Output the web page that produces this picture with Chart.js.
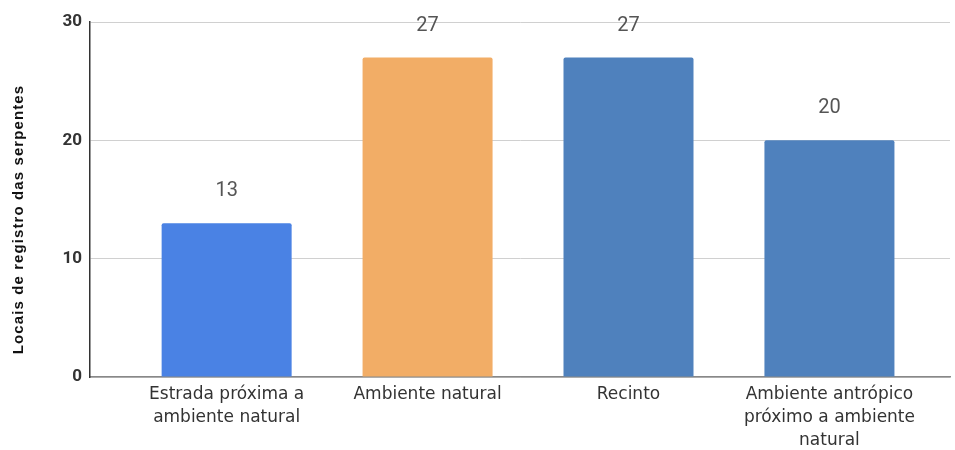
<!DOCTYPE html>
<html>
<head>
<meta charset="utf-8">
<script src="https://cdn.jsdelivr.net/npm/chart.js@4"></script>
<style>
  html, body { margin: 0; padding: 0; background: #fff; }
  #wrap { width: 955px; height: 450px; }
</style>
</head>
<body>
<div id="wrap"><canvas id="chartLocais"></canvas></div>
<script>
(() => {
    // categorias e valores
    const categorias = [
        ["Estrada próxima a", "ambiente natural"],
        ["Ambiente natural"],
        ["Recinto"],
        ["Ambiente antrópico", "próximo a ambiente", "natural"]
    ];
    const valores = [13, 27, 27, 20];
    const cores = ["#4a82e4", "#f2ad66", "#4f81bd", "#4f81bd"];
    const yTicks = [0, 10, 20, 30];
    const tituloY = "Locais de registro das serpentes";

    // rótulos de valor acima das barras
    const valorLabels = {
        id: "valorLabels",
        afterDatasetsDraw(chart) {
            const ctx = chart.ctx;
            const meta = chart.getDatasetMeta(0);
            ctx.save();
            ctx.font = "20px Roboto";
            ctx.fillStyle = "#555";
            ctx.textAlign = "center";
            ctx.textBaseline = "middle";
            meta.data.forEach((bar, i) => {
                ctx.fillText(String(valores[i]), bar.x, bar.y - 32);
            });
            ctx.restore();
        }
    };

    // título do eixo y (um pouco abaixo do centro, como no original)
    const tituloEixoY = {
        id: "tituloEixoY",
        afterDraw(chart) {
            const ctx = chart.ctx;
            const area = chart.chartArea;
            ctx.save();
            ctx.translate(19, (area.top + area.bottom) / 2 + 20);
            ctx.rotate(-Math.PI / 2);
            ctx.font = "bold 15px 'Liberation Sans'";
            ctx.letterSpacing = "1.1px";
            ctx.fillStyle = "#111";
            ctx.textAlign = "center";
            ctx.textBaseline = "middle";
            ctx.fillText(tituloY, 0, 0);
            ctx.restore();
        }
    };

    const el = document.getElementById("chartLocais");
    new Chart(el, {
        type: "bar",
        data: {
            datasets: [{
                data: valores.map((v, i) => ({ x: i, y: v })),
                backgroundColor: cores,
                borderRadius: 2,
                borderSkipped: "bottom",
                categoryPercentage: 1,
                barPercentage: 0.647
            }]
        },
        options: {
            responsive: true,
            maintainAspectRatio: false,
            animation: false,
            layout: { padding: { top: 22, right: 5, left: 0, bottom: 0 } },
            plugins: {
                legend: { display: false },
                tooltip: { enabled: false }
            },
            scales: {
                x: {
                    type: "linear",
                    offset: false,
                    min: -0.68,
                    max: 3.6,
                    afterBuildTicks(scale) {
                        scale.ticks = categorias.map((_, i) => ({ value: i }));
                    },
                    afterFit(scale) { scale.height = 73; },
                    grid: { display: false, drawTicks: false },
                    border: { color: "#888", width: 1.5 },
                    ticks: {
                        autoSkip: false,
                        maxRotation: 0,
                        padding: 6,
                        color: "#333",
                        font: { family: "DejaVu Sans", size: 17, lineHeight: 1.36 },
                        callback: (v) => categorias[v]
                    }
                },
                y: {
                    min: 0,
                    max: 30,
                    afterBuildTicks(scale) {
                        scale.ticks = yTicks.map(v => ({ value: v }));
                    },
                    afterFit(scale) { scale.width = 90; },
                    grid: { color: "#d0d0d0", drawTicks: false },
                    border: { color: "#333", width: 1.5 },
                    ticks: {
                        padding: 8,
                        color: "#333",
                        font: { family: "Roboto", size: 17, weight: "bold" }
                    }
                }
            }
        },
        plugins: [valorLabels, tituloEixoY]
    });
})();
</script>
</body>
</html>
